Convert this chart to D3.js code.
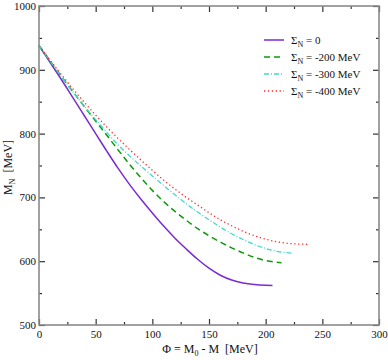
<!DOCTYPE html>
<html>
<head>
<meta charset="utf-8">
<script src="https://cdn.jsdelivr.net/npm/d3@7"></script>
<style>
  body { margin: 0; background: #fff; }
  svg text { font-family: "Liberation Serif", "DejaVu Serif", serif; }
</style>
</head>
<body>
<svg id="chart" width="388" height="360"></svg>
<script>
// values: Phi [MeV] -> M_N [MeV]
const phi0 = [0, 10, 20, 30, 40, 50, 60, 70, 80, 90, 100, 110, 120, 130, 140, 150, 160, 170, 180, 190, 200, 206];
const mass0 = [938, 911, 884, 856, 828, 800, 772, 745, 720, 697, 675.5, 655, 636, 619, 603, 589, 578, 570.5, 566, 563.5, 562.3, 562];

const phi200 = [0, 10, 20, 30, 40, 50, 60, 70, 80, 90, 100, 110, 120, 130, 140, 150, 160, 170, 180, 190, 200, 214];
const mass200 = [938, 913.5, 889, 865.5, 842.5, 819.5, 797, 774, 751.5, 730.5, 711, 693.5, 678, 664, 651, 640, 630, 621, 613, 606, 601, 597.7];

const phi300 = [0, 10, 20, 30, 40, 50, 60, 70, 80, 90, 100, 110, 120, 130, 140, 150, 160, 170, 180, 190, 200, 210, 224];
const mass300 = [938, 913, 889, 865, 843, 822, 801.5, 782, 765, 749, 733.5, 718.5, 704, 690, 677, 665, 653.5, 643, 634, 626, 620, 615.5, 612.4];

const phi400 = [0, 10, 20, 30, 40, 50, 60, 70, 80, 90, 100, 110, 120, 130, 140, 150, 160, 170, 180, 190, 200, 210, 220, 230, 238];
const mass400 = [938, 914.5, 892, 870, 849, 829, 810, 792, 775, 758.5, 742.5, 727, 713, 700, 688, 676, 665, 655.5, 647, 640, 634.5, 630.5, 628, 626.8, 626.5];

const seriesNames = ["0", "-200 MeV", "-300 MeV", "-400 MeV"];
const xTicks = [0, 50, 100, 150, 200, 250, 300];
const yTicks = [500, 600, 700, 800, 900, 1000];

const series = [
    { name: seriesNames[0], xs: phi0, ys: mass0, color: "#7a2bd4", dash: null, w: 1.5 },
    { name: seriesNames[1], xs: phi200, ys: mass200, color: "#0a9a0a", dash: "6,4", w: 1.5 },
    { name: seriesNames[2], xs: phi300, ys: mass300, color: "#3fd9cc", dash: "5,2,1,2", w: 1.3 },
    { name: seriesNames[3], xs: phi400, ys: mass400, color: "#ff2a2a", dash: "1.3,2.6", w: 1.3 }
];

const svg = d3.select("#chart");
const margin = { top: 6, right: 9, bottom: 35, left: 39 };
const W = 388, H = 360;
const width = W - margin.left - margin.right;
const height = H - margin.top - margin.bottom;

const x = d3.scaleLinear().domain([0, 300]).range([0, width]);
const y = d3.scaleLinear().domain([500, 1000]).range([height, 0]);

const g = svg.append("g")
    .attr("transform", "translate(" + margin.left + "," + margin.top + ")");

// curves
const line = d3.line()
    .x(d => x(d[0]))
    .y(d => y(d[1]))
    .curve(d3.curveMonotoneX);

series.forEach(s => {
    const pts = s.xs.map((v, i) => [v, s.ys[i]]);
    g.append("path")
        .datum(pts)
        .attr("fill", "none")
        .attr("stroke", s.color)
        .attr("stroke-width", s.w)
        .attr("stroke-dasharray", s.dash)
        .attr("d", line);
});

// axes: major + minor ticks pointing inward on all four sides
function styleAxis(sel) {
    sel.select(".domain").remove();
    sel.selectAll(".tick line").attr("stroke", "#333").attr("stroke-width", 1.2);
    sel.selectAll(".tick text").attr("font-size", 11).attr("fill", "#111")
        .attr("font-family", "Liberation Serif, serif");
}
const minorX = d3.range(25, 300, 50);
const minorY = d3.range(550, 1000, 100);

g.append("g").attr("transform", "translate(0," + height + ")")
    .call(d3.axisBottom(x).tickValues(xTicks).tickSize(-6).tickPadding(5).tickFormat(d3.format("d")))
    .call(styleAxis);
g.append("g").attr("transform", "translate(0," + height + ")")
    .call(d3.axisBottom(x).tickValues(minorX).tickSize(-3).tickFormat(""))
    .call(styleAxis);
g.append("g")
    .call(d3.axisTop(x).tickValues(xTicks).tickSize(-6).tickFormat(""))
    .call(styleAxis);
g.append("g")
    .call(d3.axisTop(x).tickValues(minorX).tickSize(-3).tickFormat(""))
    .call(styleAxis);
g.append("g")
    .call(d3.axisLeft(y).tickValues(yTicks).tickSize(-6).tickPadding(3).tickFormat(d3.format("d")))
    .call(styleAxis);
g.append("g")
    .call(d3.axisLeft(y).tickValues(minorY).tickSize(-3).tickFormat(""))
    .call(styleAxis);
g.append("g").attr("transform", "translate(" + width + ",0)")
    .call(d3.axisRight(y).tickValues(yTicks).tickSize(-6).tickFormat(""))
    .call(styleAxis);
g.append("g").attr("transform", "translate(" + width + ",0)")
    .call(d3.axisRight(y).tickValues(minorY).tickSize(-3).tickFormat(""))
    .call(styleAxis);

// frame
g.append("rect")
    .attr("width", width).attr("height", height)
    .attr("fill", "none").attr("stroke", "#8a8a8a").attr("stroke-width", 1.6);

// legend
const legend = g.append("g").attr("transform", "translate(" + (264 - margin.left) + "," + (40 - margin.top) + ")");
series.forEach((s, i) => {
    const row = legend.append("g").attr("transform", "translate(0," + i * 17 + ")");
    row.append("line")
        .attr("x1", 0).attr("x2", 20).attr("y1", 0).attr("y2", 0)
        .attr("stroke", s.color).attr("stroke-width", s.w)
        .attr("stroke-dasharray", s.dash);
    const t = row.append("text").attr("x", 27).attr("y", 4).attr("font-size", 11).attr("fill", "#111");
    t.append("tspan").text("\u03A3");
    t.append("tspan").attr("font-size", 8).attr("dy", 3).text("N");
    t.append("tspan").attr("dy", -3).text(" = " + s.name);
});

// axis titles
const xl = svg.append("text")
    .attr("x", margin.left + x(150) + 1).attr("y", 353)
    .attr("text-anchor", "middle").attr("font-size", 12).attr("fill", "#111");
xl.append("tspan").text("\u03A6 = M");
xl.append("tspan").attr("font-size", 8).attr("dy", 3).text("0");
xl.append("tspan").attr("dy", -3).text(" - M\u00A0 [MeV]");

const yl = svg.append("text")
    .attr("transform", "translate(12," + (margin.top + y(750) + 2) + ") rotate(-90)")
    .attr("text-anchor", "middle").attr("font-size", 12).attr("fill", "#111");
yl.append("tspan").text("M");
yl.append("tspan").attr("font-size", 8).attr("dy", 3).text("N");
yl.append("tspan").attr("dy", -3).text("\u00A0 [MeV]");
</script>
</body>
</html>
